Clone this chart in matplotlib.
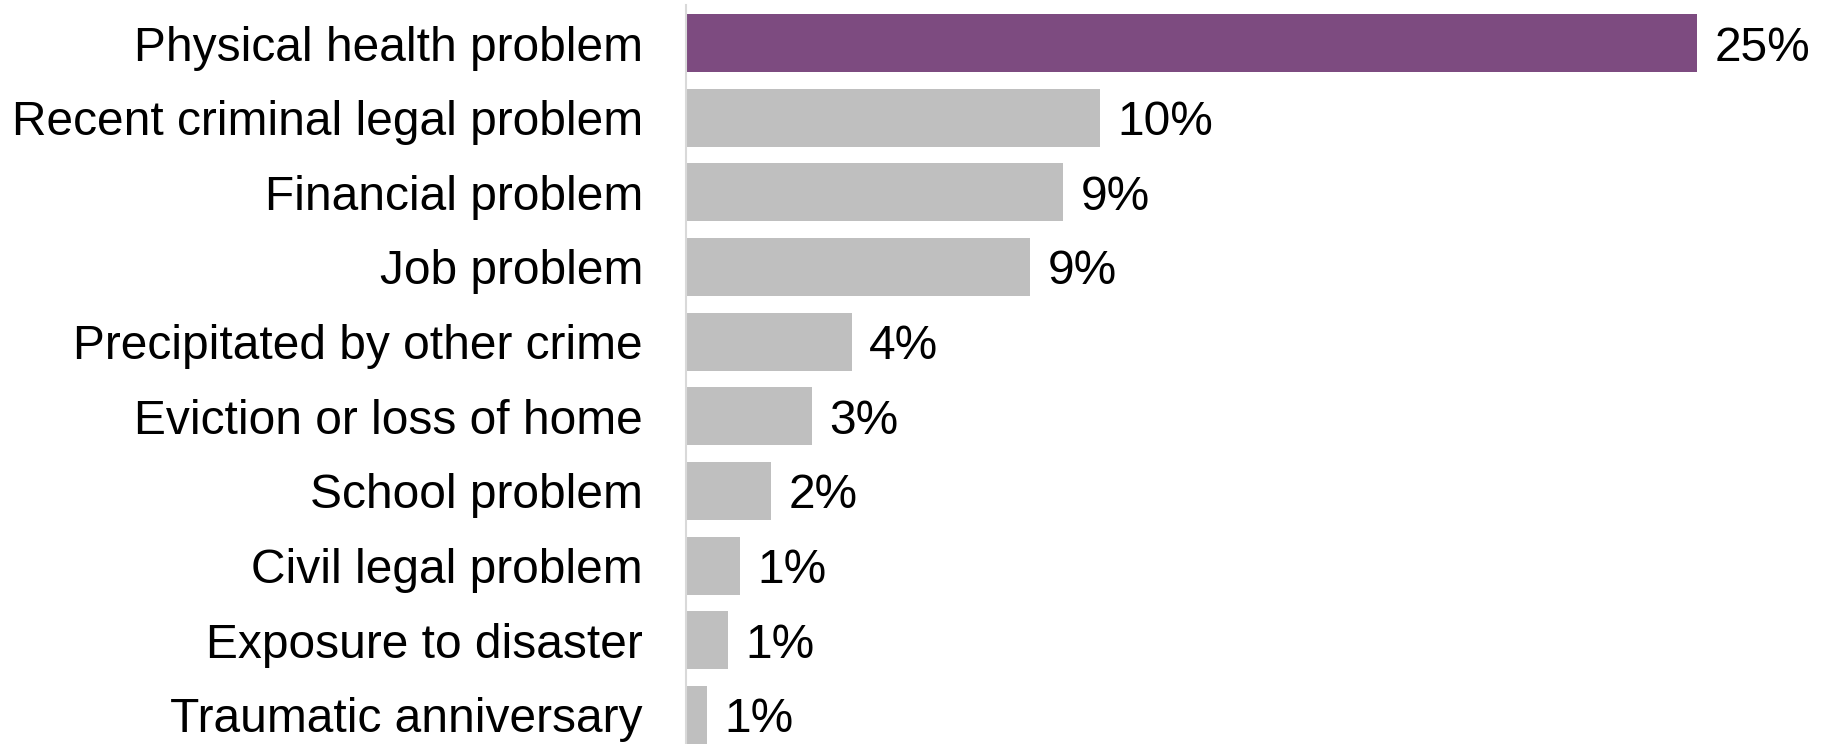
import matplotlib
matplotlib.use("Agg")
import matplotlib.pyplot as plt
import numpy as np

plt.rcParams['font.family'] = ['Liberation Sans', 'DejaVu Sans']

# precipitating circumstances, top to bottom
categories = [
    "Physical health problem",
    "Recent criminal legal problem",
    "Financial problem",
    "Job problem",
    "Precipitated by other crime",
    "Eviction or loss of home",
    "School problem",
    "Civil legal problem",
    "Exposure to disaster",
    "Traumatic anniversary",
]
values = [25.0, 10.24, 9.32, 8.51, 4.1, 3.12, 2.1, 1.34, 1.04, 0.52]
value_labels = ["25%", "10%", "9%", "9%", "4%", "3%", "2%", "1%", "1%", "1%"]

PURPLE = "#7D4B80"
GREY = "#BFBFBF"
colors = [PURPLE] + [GREY] * (len(values) - 1)

fig = plt.figure(figsize=(18.24, 7.44), dpi=100)
ax = fig.add_axes([686 / 1824, 0, (1824 - 686) / 1824, 739 / 744])

y = np.arange(len(categories))
bars = ax.barh(y, values, height=0.777, color=colors)

ax.set_ylim(9.389, -0.509)
ax.set_xlim(0, 28.14)

ax.set_yticks(y)
ax.set_yticklabels(categories, fontsize=34.5)
ax.tick_params(axis='y', length=0, pad=31)
ax.set_xticks([])

for s in ['top', 'right', 'bottom']:
    ax.spines[s].set_visible(False)
ax.spines['left'].set_color('#D9D9D9')
ax.spines['left'].set_linewidth(1.5)

texts = ax.bar_label(bars, labels=value_labels, padding=12.5, fontsize=34.5)
for t in texts:
    t.set_va('center_baseline')

fig.savefig("out.png", dpi=100)
